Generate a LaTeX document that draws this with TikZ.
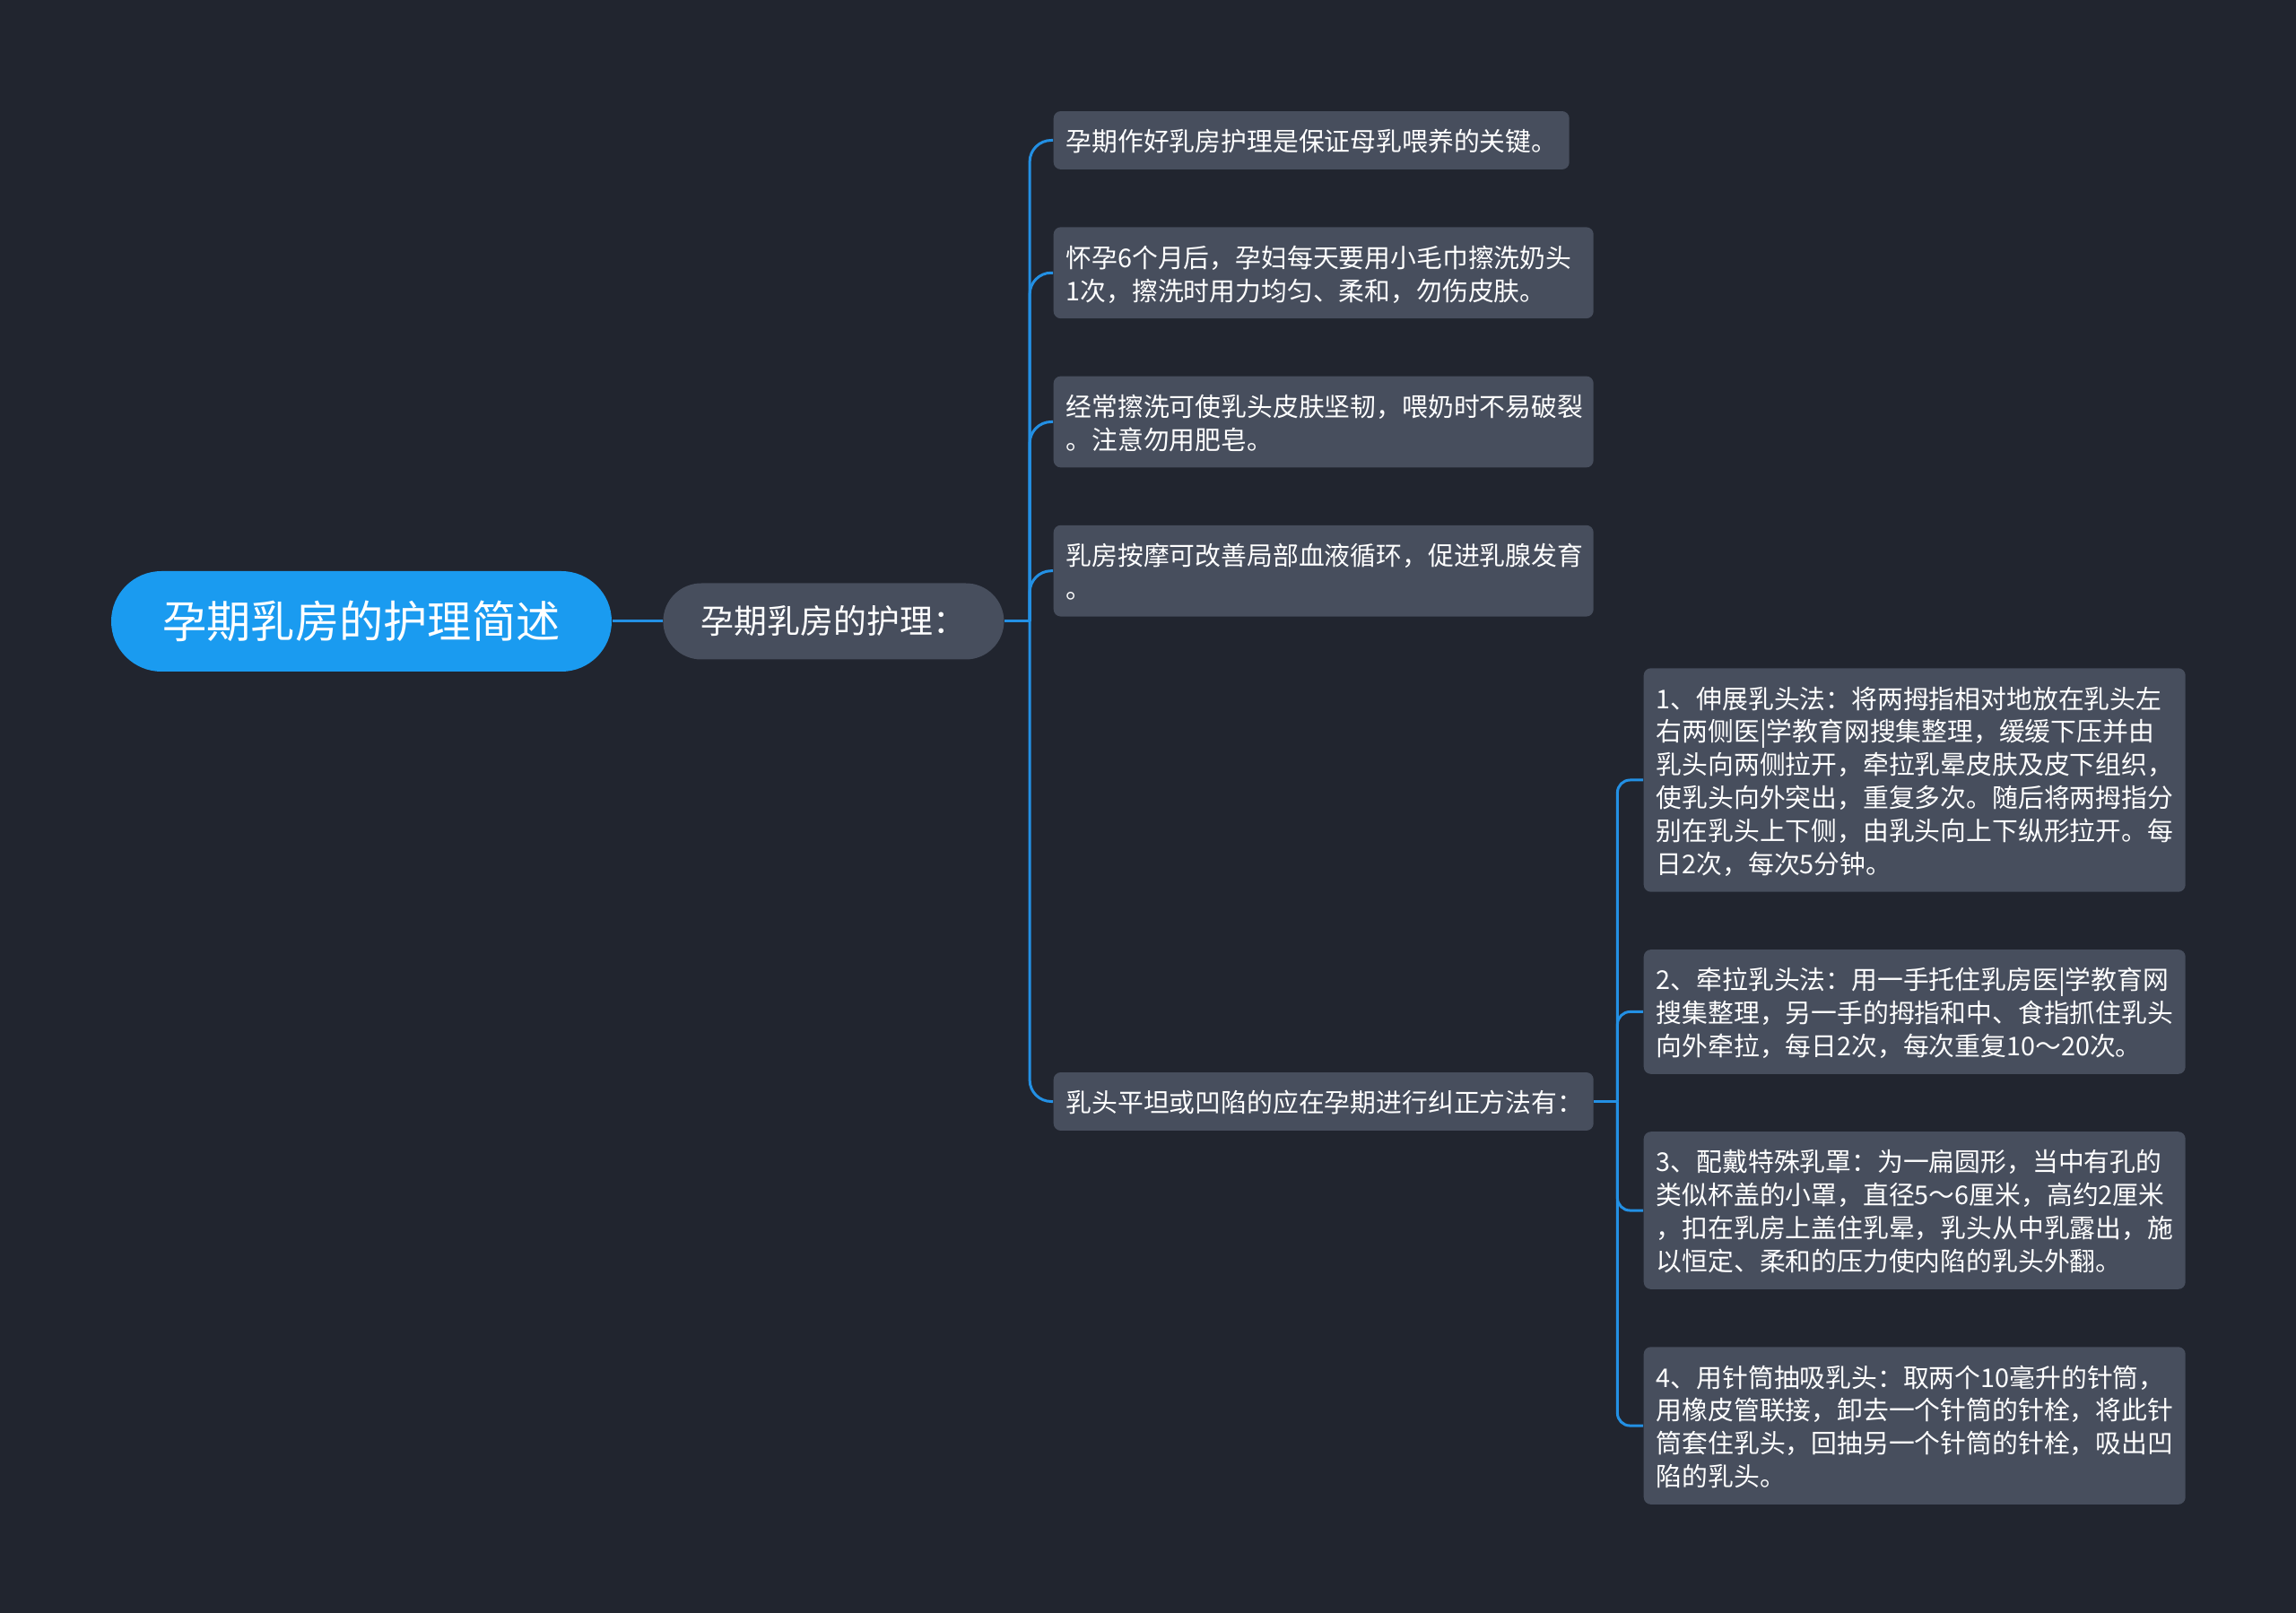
\documentclass[tikz,border=0pt]{standalone}
\usepackage{fontspec}
\setmainfont{Noto Sans CJK SC}
\usetikzlibrary{positioning,backgrounds}
\definecolor{canvas}{HTML}{21252F}
\definecolor{topicblue}{HTML}{1A9BF0}
\definecolor{cardgray}{HTML}{474E5D}
\definecolor{linkblue}{HTML}{2390E4}
\newcommand{\leaftop}{\rule{0pt}{8.75pt}}
\newcommand{\leafbot}{\rule[-1.75pt]{0pt}{1.75pt}}
\tikzset{
  topic/.style={rectangle,rounded corners=5.6mm,minimum width=55.8mm,minimum height=11.2mm,
    fill=topicblue,text=white,font=\fontsize{14}{17}\selectfont,inner sep=0pt},
  branch/.style={rectangle,rounded corners=4.25mm,minimum width=38mm,minimum height=8.5mm,
    fill=cardgray,text=white,font=\fontsize{10.5}{13}\selectfont,inner sep=0pt},
  leaf/.style={rectangle,rounded corners=0.8mm,fill=cardgray,text=white,
    font=\fontsize{8.2}{10.5}\selectfont,align=left,text width=#1,
    inner xsep=1.4mm,inner ysep=1.4mm,
    execute at begin node=\leaftop,execute at end node=\leafbot},
  leaf/.default=57.4mm,
  link/.style={draw=linkblue,line width=0.3mm},
}

\begin{document}
\begin{tikzpicture}
  \fill[canvas] (0,0) rectangle (25.6,-17.99);
  \node[topic] (root) at (4.03,-6.93) {孕期乳房的护理简述};
  \node[branch,right=5.6mm of root] (care) {孕期乳房的护理：};
  % first level notes
  \node[leaf=54.7mm,anchor=west] (c1) at (11.74,-1.565) {孕期作好乳房护理是保证母乳喂养的关键。};
  \node[leaf,below=6.3mm of c1.south west,anchor=north west] (c2) {怀孕6个月后，孕妇每天要用小毛巾擦洗奶头\\1次，擦洗时用力均匀、柔和，勿伤皮肤。};
  \node[leaf,below=6.3mm of c2.south west,anchor=north west] (c3) {经常擦洗可使乳头皮肤坚韧，喂奶时不易破裂\\。注意勿用肥皂。};
  \node[leaf,below=6.3mm of c3.south west,anchor=north west] (c4) {乳房按摩可改善局部血液循环，促进乳腺发育\\。};
  \node[leaf,anchor=west] (c5) at (11.74,-12.285) {乳头平坦或凹陷的应在孕期进行纠正方法有：};
  % methods
  \node[leaf=57.6mm,anchor=west] (d1) at (18.32,-8.70) {1、伸展乳头法：将两拇指相对地放在乳头左\\右两侧医|学教育网搜集整理，缓缓下压并由\\乳头向两侧拉开，牵拉乳晕皮肤及皮下组织，\\使乳头向外突出，重复多次。随后将两拇指分\\别在乳头上下侧，由乳头向上下纵形拉开。每\\日2次，每次5分钟。};
  \node[leaf=57.6mm,below=6.3mm of d1.south west,anchor=north west] (d2) {2、牵拉乳头法：用一手托住乳房医|学教育网\\搜集整理，另一手的拇指和中、食指抓住乳头\\向外牵拉，每日2次，每次重复10～20次。};
  \node[leaf=57.6mm,below=6.3mm of d2.south west,anchor=north west] (d3) {3、配戴特殊乳罩：为一扁圆形，当中有孔的\\类似杯盖的小罩，直径5～6厘米，高约2厘米\\，扣在乳房上盖住乳晕，乳头从中乳露出，施\\以恒定、柔和的压力使内陷的乳头外翻。};
  \node[leaf=57.6mm,below=6.3mm of d3.south west,anchor=north west] (d4) {4、用针筒抽吸乳头：取两个10毫升的针筒，\\用橡皮管联接，卸去一个针筒的针栓，将此针\\筒套住乳头，回抽另一个针筒的针栓，吸出凹\\陷的乳头。};
  \coordinate[right=2.8mm of care] (hub);
  \coordinate[right=2.6mm of c5] (hub2);
  \draw[link] (root) -- (care);
  \draw[link] (care) -- (hub);
  \foreach \c in {c1,c2,c3,c4,c5}
    \draw[link,rounded corners=2.4mm] (hub) |- (\c.west);
  \draw[link] (c5) -- (hub2);
  \foreach \d in {d1,d2,d3,d4}
    \draw[link,rounded corners=1.4mm] (hub2) |- (\d.west);
\end{tikzpicture}
\end{document}
